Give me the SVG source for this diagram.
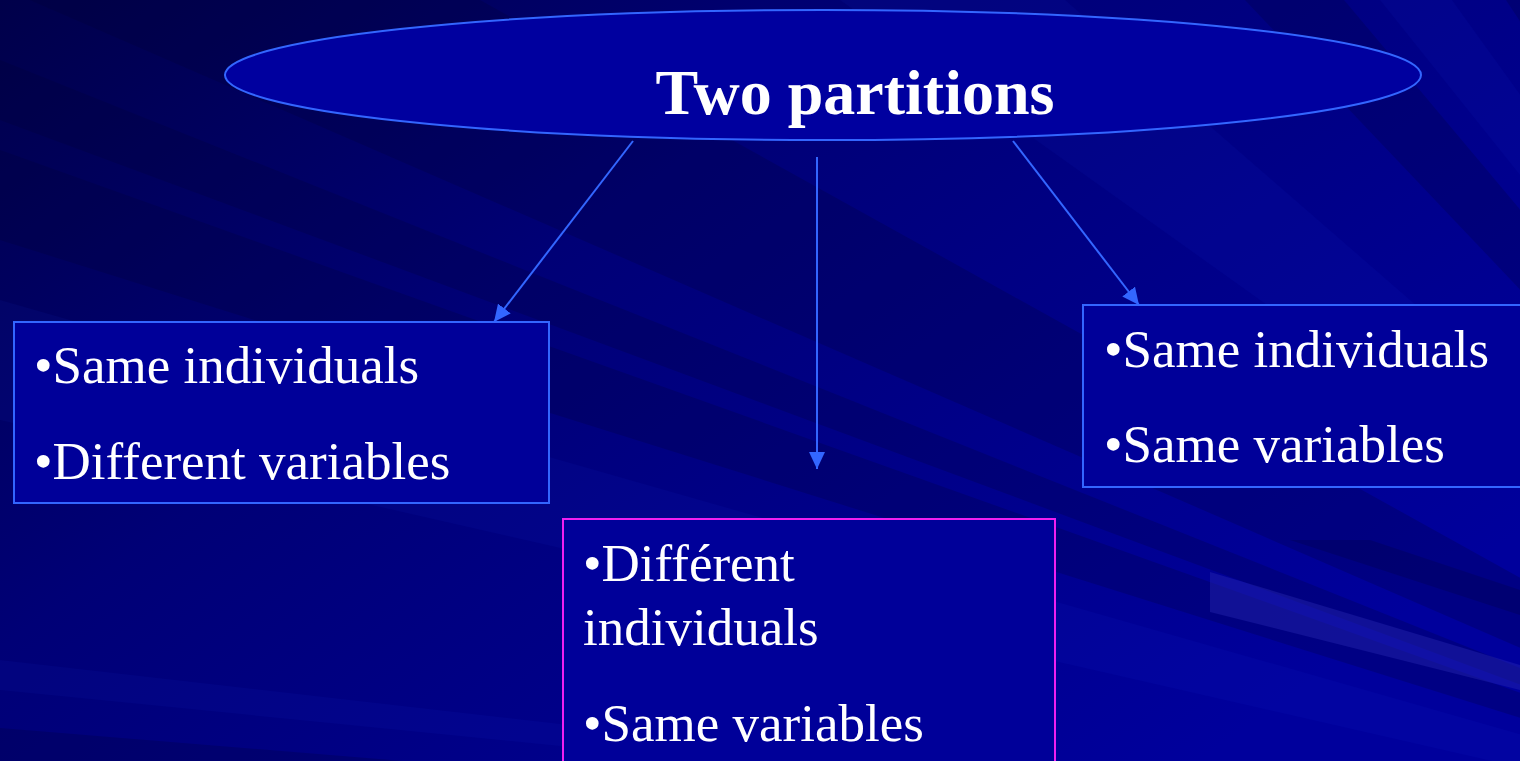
<svg xmlns="http://www.w3.org/2000/svg" width="1520" height="761" viewBox="0 0 1520 761">
  <defs>
    <linearGradient id="bg" x1="0" y1="0" x2="1" y2="0.7">
      <stop offset="0" stop-color="#00004a"/>
      <stop offset="0.4" stop-color="#000076"/>
      <stop offset="1" stop-color="#00009c"/>
    </linearGradient>
    <marker id="arr" markerUnits="userSpaceOnUse" markerWidth="17" markerHeight="16" refX="17" refY="8" orient="auto">
      <path d="M0,0 L17,8 L0,16 z" fill="#3366ff"/>
    </marker>
    <style>
      .dk { fill: #000030; opacity: 0.22; }
      .lt { fill: #2a4cff; opacity: 0.06; }
      .box { fill: #000099; stroke: #3366ff; stroke-width: 2; }
      .conn { stroke: #3366ff; stroke-width: 2; fill: none; marker-end: url(#arr); }
      .t { font-family: "Liberation Serif", "Times New Roman", serif; font-size: 53px; fill: #ffffff; }
      .title { font-family: "Liberation Serif", "Times New Roman", serif; font-size: 64px; font-weight: bold; fill: #ffffff; }
    </style>
  </defs>

  <!-- background -->
  <rect x="0" y="0" width="1520" height="761" fill="url(#bg)"/>
  <g id="background-streaks">
    <polygon class="dk" points="2100,900 0,728 0,800"/>
    <polygon class="lt" points="2100,900 0,660 0,690"/>
    <polygon class="lt" points="2100,900 0,300 0,420"/>
    <polygon class="dk" points="2100,900 0,150 0,240"/>
    <polygon class="dk" points="2100,900 0,60 0,120"/>
    <polygon class="dk" points="2100,900 -200,-100 300,-100"/>
    <polygon class="lt" points="2100,900 700,-100 950,-100"/>
    <polygon class="dk" points="2100,900 1150,-100 1260,-100"/>
    <polygon class="lt" points="2100,900 1300,-100 1380,-100"/>
    <polygon class="dk" points="2100,900 1440,-100 1500,-100"/>
    <polygon class="lt" points="2100,900 1560,-100 1640,-100"/>
    <polygon class="dk" points="1290,540 1370,540 1520,590 1520,615"/>
    <polygon fill="#2a2ab4" opacity="0.4" points="1210,572 1520,665 1520,690 1210,612"/>
  </g>

  <g id="connectors">
    <line class="conn" x1="633" y1="141" x2="494" y2="322"/>
    <line class="conn" x1="817" y1="157" x2="817" y2="469"/>
    <line class="conn" x1="1013" y1="141" x2="1139" y2="305"/>
  </g>

  <g id="node-title">
    <ellipse cx="823" cy="75" rx="598" ry="65" fill="#00009f" stroke="#3366ff" stroke-width="2"/>
    <text class="title" x="855" y="114" text-anchor="middle">Two partitions</text>
  </g>

  <g id="node-left">
    <rect class="box" x="14" y="322" width="535" height="181"/>
    <text class="t" x="34" y="383">•Same individuals</text>
    <text class="t" x="34" y="479">•Different variables</text>
  </g>

  <g id="node-right">
    <rect class="box" x="1083" y="305" width="460" height="182"/>
    <text class="t" x="1104" y="367">•Same individuals</text>
    <text class="t" x="1104" y="462">•Same variables</text>
  </g>

  <g id="node-center">
    <rect class="box" x="563" y="519" width="492" height="262" style="stroke:#f020f0"/>
    <text class="t" x="583" y="581">•Différent</text>
    <text class="t" x="583" y="645">individuals</text>
    <text class="t" x="583" y="741">•Same variables</text>
  </g>
</svg>
